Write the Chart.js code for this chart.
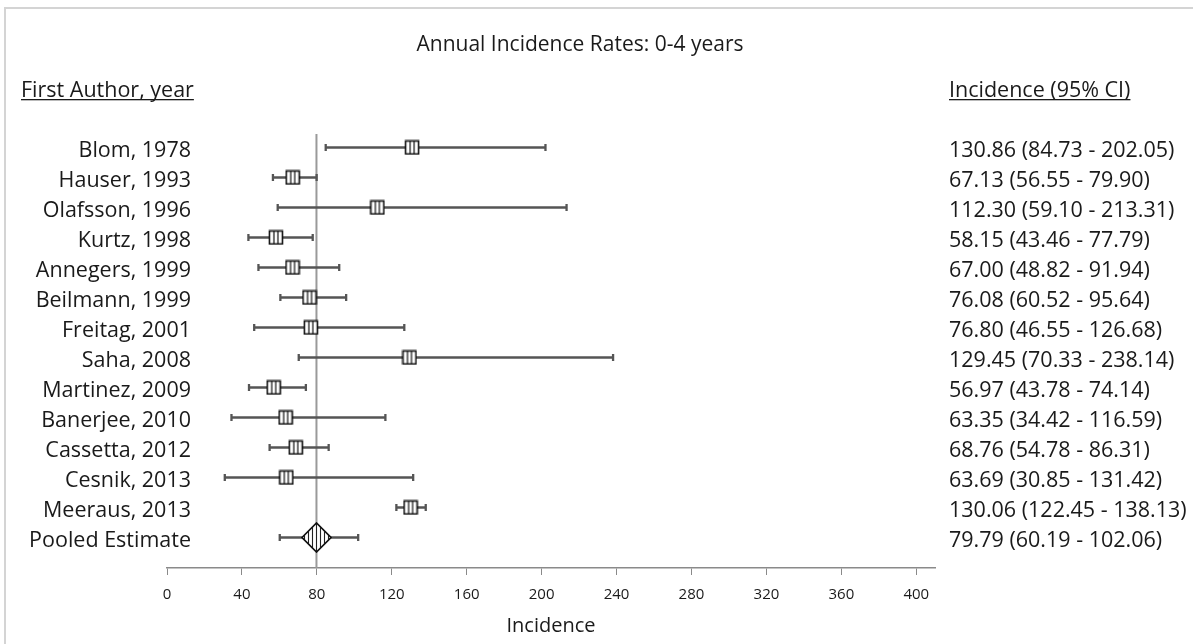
<!DOCTYPE html>
<html>
<head>
<meta charset="utf-8">
<script src="https://cdn.jsdelivr.net/npm/chart.js@4.4.1/dist/chart.umd.min.js"></script>
<style>
  html, body { margin: 0; padding: 0; background: #fff; }
  #wrap { position: relative; width: 1193px; height: 644px; overflow: hidden; }
  #frame { position: absolute; left: 4px; top: 7px; width: 1300px; height: 800px;
           border-left: 2px solid #d4d4d4; border-top: 2px solid #d4d4d4; }
  canvas { position: absolute; left: 0; top: 0; }
</style>
</head>
<body>
<div id="wrap">
  <div id="frame"></div>
  <canvas id="forest" width="1193" height="644"></canvas>
</div>
<script>
// Annual incidence per study, 0-4 years
const studies = ['Blom, 1978', 'Hauser, 1993', 'Olafsson, 1996', 'Kurtz, 1998', 'Annegers, 1999',
  'Beilmann, 1999', 'Freitag, 2001', 'Saha, 2008', 'Martinez, 2009', 'Banerjee, 2010',
  'Cassetta, 2012', 'Cesnik, 2013', 'Meeraus, 2013', 'Pooled Estimate'];
const estimate = [130.86, 67.13, 112.30, 58.15, 67.00, 76.08, 76.80, 129.45, 56.97, 63.35, 68.76, 63.69, 130.06, 79.79];
const lower = [84.73, 56.55, 59.10, 43.46, 48.82, 60.52, 46.55, 70.33, 43.78, 34.42, 54.78, 30.85, 122.45, 60.19];
const upper = [202.05, 79.90, 213.31, 77.79, 91.94, 95.64, 126.68, 238.14, 74.14, 116.59, 86.31, 131.42, 138.13, 102.06];
const xTicks = [0, 40, 80, 120, 160, 200, 240, 280, 320, 360, 400];

const FONT = '"Open Sans", "Noto Sans", sans-serif';
const TEXT = '#1a1a1a';
const pooledIdx = studies.length - 1;

function fmt(v) { return v.toFixed(2); }

// study marker: white square with vertical stripes
function makeBox() {
  const c = document.createElement('canvas');
  c.width = 16; c.height = 16;
  const g = c.getContext('2d');
  g.fillStyle = '#fff';
  g.fillRect(1, 1, 14, 14);
  g.strokeStyle = '#111';
  g.lineWidth = 1.6;
  g.strokeRect(1.5, 1.5, 13, 13);
  g.lineWidth = 1.2;
  [6, 10].forEach(x => { g.beginPath(); g.moveTo(x, 2); g.lineTo(x, 14); g.stroke(); });
  return c;
}

// pooled marker: hatched diamond
function makeDiamond() {
  const s = 31, h = 14.5, cx = s / 2, cy = s / 2;
  const c = document.createElement('canvas');
  c.width = s; c.height = s;
  const g = c.getContext('2d');
  const path = () => {
    g.beginPath();
    g.moveTo(cx - h, cy); g.lineTo(cx, cy - h); g.lineTo(cx + h, cy); g.lineTo(cx, cy + h); g.closePath();
  };
  path();
  g.fillStyle = '#fff';
  g.fill();
  g.save();
  g.clip();
  g.strokeStyle = '#222';
  g.lineWidth = 1.1;
  for (let x = cx - 12; x <= cx + 12.5; x += 4) {
    g.beginPath(); g.moveTo(x, 0); g.lineTo(x, s); g.stroke();
  }
  g.restore();
  path();
  g.strokeStyle = '#111';
  g.lineWidth = 1.7;
  g.stroke();
  return c;
}

const boxImg = makeBox();
const diamondImg = makeDiamond();

// reference line at pooled estimate + whiskers with end caps
const whiskers = {
  id: 'whiskers',
  beforeDatasetsDraw(chart) {
    const { ctx, chartArea, scales: { x, y } } = chart;
    ctx.save();
    const rx = x.getPixelForValue(estimate[pooledIdx]);
    ctx.strokeStyle = '#9a9a9a';
    ctx.lineWidth = 2;
    ctx.beginPath(); ctx.moveTo(rx, chartArea.top); ctx.lineTo(rx, chartArea.bottom); ctx.stroke();

    ctx.strokeStyle = '#555';
    ctx.lineWidth = 2.3;
    studies.forEach((s, i) => {
      const py = y.getPixelForValue(i);
      const x0 = x.getPixelForValue(lower[i]);
      const x1 = x.getPixelForValue(upper[i]);
      ctx.beginPath();
      ctx.moveTo(x0, py); ctx.lineTo(x1, py);
      ctx.moveTo(x0, py - 3.5); ctx.lineTo(x0, py + 3.5);
      ctx.moveTo(x1, py - 3.5); ctx.lineTo(x1, py + 3.5);
      ctx.stroke();
    });
    ctx.restore();
  }
};

// title, column headers and row labels
const labels = {
  id: 'labels',
  afterDraw(chart) {
    const { ctx, scales: { y } } = chart;
    ctx.save();
    ctx.fillStyle = TEXT;
    ctx.textBaseline = 'alphabetic';

    ctx.font = '21px ' + FONT;
    ctx.textAlign = 'center';
    ctx.fillText('Annual Incidence Rates: 0-4 years', 580, 51);

    ctx.font = '21.5px ' + FONT;
    const header = (txt, x0) => {
      ctx.textAlign = 'left';
      ctx.fillText(txt, x0, 97);
      const w = ctx.measureText(txt).width;
      ctx.fillRect(x0, 99, w, 1.3);
    };
    header('First Author, year', 21);
    header('Incidence (95% CI)', 949);

    studies.forEach((s, i) => {
      const py = y.getPixelForValue(i) + 9.5;
      ctx.textAlign = 'right';
      ctx.fillText(s, 191, py);
      ctx.textAlign = 'left';
      ctx.fillText(fmt(estimate[i]) + ' (' + fmt(lower[i]) + ' - ' + fmt(upper[i]) + ')', 949, py);
    });
    ctx.restore();
  }
};

new Chart(document.getElementById('forest'), {
  type: 'scatter',
  data: {
    datasets: [{
      label: 'Incidence',
      data: estimate.map((v, i) => ({ x: v, y: i })),
      pointStyle: estimate.map((v, i) => i === pooledIdx ? diamondImg : boxImg),
      pointRadius: 8,
      pointHoverRadius: 8
    }]
  },
  options: {
    responsive: false,
    animation: false,
    layout: { padding: { left: 167, right: 258, top: 134, bottom: 0 } },
    plugins: { legend: { display: false }, tooltip: { enabled: false } },
    scales: {
      x: {
        type: 'linear',
        min: 0,
        max: 410,
        afterBuildTicks(scale) { scale.ticks = xTicks.map(v => ({ value: v })); },
        afterFit(scale) { scale.height = 76; },
        grid: { drawOnChartArea: false, drawTicks: true, tickLength: 7, color: '#8a8a8a', lineWidth: 1 },
        border: { color: '#8a8a8a', width: 1.5 },
        ticks: { color: TEXT, font: { family: FONT, size: 15 }, padding: 11, maxRotation: 0 },
        title: { display: true, text: 'Incidence', color: TEXT, font: { family: FONT, size: 20 }, padding: { top: 0, bottom: 6 } }
      },
      y: {
        type: 'linear',
        display: false,
        reverse: true,
        min: -0.45,
        max: 14.017
      }
    }
  },
  plugins: [whiskers, labels]
});
</script>
</body>
</html>
